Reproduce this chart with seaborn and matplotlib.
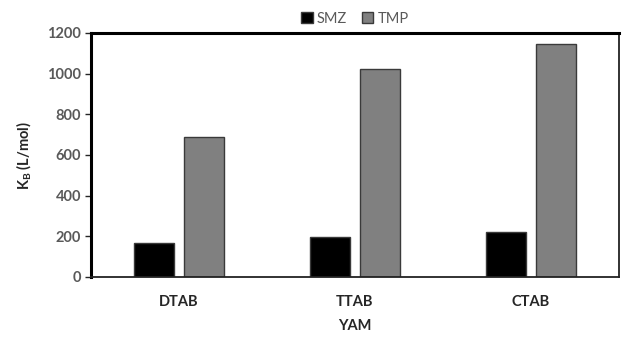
import pandas as pd
import matplotlib.pyplot as plt
import seaborn as sns

# ── DATA ─────────────────────────────────────────────
surfactants = ["DTAB", "TTAB", "CTAB"]
smz_values = [167, 197, 221]
tmp_values = [689, 1023, 1146]
series = ["SMZ", "TMP"]

df = pd.DataFrame({
    "surfactant": surfactants * 2,
    "drug": ["SMZ"] * 3 + ["TMP"] * 3,
    "kb": smz_values + tmp_values,
})

# ── PLOT ─────────────────────────────────────────────
sns.set_style("white")
plt.rcParams["font.family"] = ["Lato", "DejaVu Sans"]
plt.rcParams["mathtext.fontset"] = "custom"
plt.rcParams["mathtext.rm"] = "Lato:bold"
plt.rcParams["mathtext.bf"] = "Lato:bold"
plt.rcParams["mathtext.it"] = "Lato:bold"

fig = plt.figure(figsize=(6.22, 3.38), dpi=100)
ax = fig.add_axes([0.1463, 0.1805, 0.8487, 0.7219])

sns.barplot(data=df, x="surfactant", y="kb", hue="drug", hue_order=series,
            palette={"SMZ": "#000000", "TMP": "#808080"},
            width=0.57, gap=0.2, edgecolor="#3a3a3a", linewidth=1.0,
            ax=ax)

ax.set_ylim(0, 1200)
ax.set_yticks(range(0, 1201, 200))
ax.set_xlim(-0.5, 2.5)

for side in ["left", "top"]:
    ax.spines[side].set_linewidth(2.2)
    ax.spines[side].set_color("black")
for side in ["right", "bottom"]:
    ax.spines[side].set_linewidth(1.3)
    ax.spines[side].set_color("#222222")

ax.tick_params(axis="y", which="major", direction="out", length=4, width=1,
               labelsize=10.5, labelcolor="#595959", left=True, pad=3)
ax.tick_params(axis="x", length=0, labelsize=10.5, pad=13)
for lbl in ax.get_yticklabels():
    lbl.set_fontweight("bold")
for lbl in ax.get_xticklabels():
    lbl.set_fontweight("bold")

ax.set_xlabel("YAM", fontsize=10.5, fontweight="bold", labelpad=7)
ax.set_ylabel("$\\mathbf{K_B}$ (L/mol)", fontsize=10.5, fontweight="bold", labelpad=10)

ax.legend(loc="lower center", bbox_to_anchor=(0.5, 1.0), ncol=2, frameon=False,
          fontsize=10.5, handlelength=0.8, handleheight=0.8, handletextpad=0.3,
          columnspacing=1.0, labelcolor="#595959", borderaxespad=0.1)

plt.savefig("out.png", dpi=100)
